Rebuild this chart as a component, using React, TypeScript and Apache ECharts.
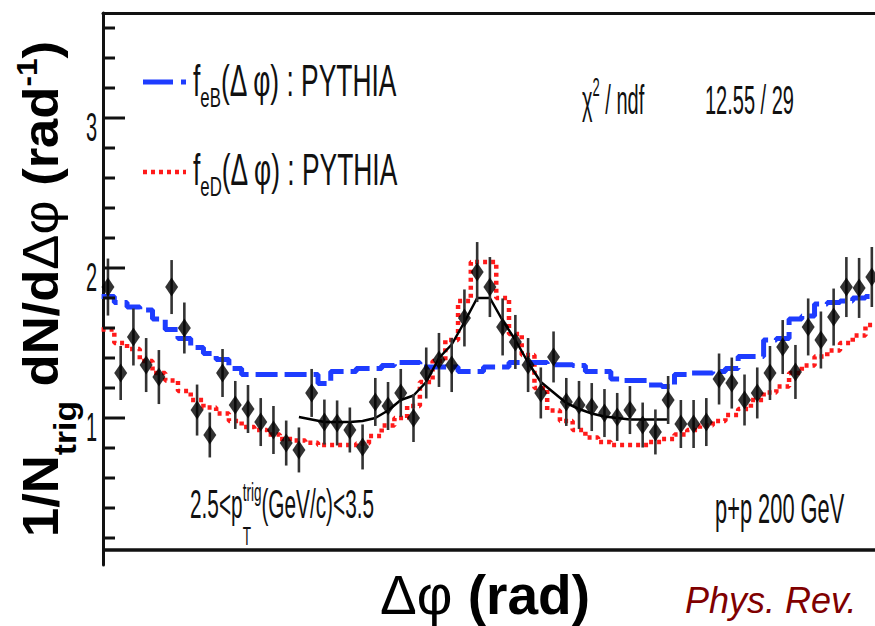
import React, { useEffect, useRef } from "react";
import * as echarts from "echarts";

// ---------- axes / binning ----------
const BIN_WIDTH = Math.PI / 30;
const FIRST_BIN_CENTER = -Math.PI + BIN_WIDTH / 2;
const X_MIN = -3.13;
const X_MAX = 3.22;
const Y_MIN = 0.02;
const Y_MAX = 3.7;
const Y_MAJOR_TICKS = [1, 2, 3];
const Y_MINOR_TICKS = [0.2, 0.4, 0.6, 0.8, 1.2, 1.4, 1.6, 1.8, 2.2, 2.4, 2.6, 2.8, 3.2, 3.4, 3.6];
const FRAME_BOTTOM_Y = 0.12;

// ---------- data (per bin) ----------
const DATA_Y = [
  1.873, 1.3, 1.54, 1.353, 1.273, 1.873, 1.6, 1.053, 0.887, 1.3,
  1.087, 1.06, 0.973, 0.92, 0.833, 0.787, 1.167, 0.973, 0.967, 0.92,
  0.807, 1.107, 1.08, 1.167, 1.0, 1.3, 1.387, 1.353, 1.667, 1.973,
  1.873, 1.607, 1.507, 1.353, 1.167, 1.407, 1.107, 1.087, 1.073, 1.033,
  1.007, 1.053, 0.953, 0.907, 1.12, 0.96, 0.96, 0.973, 1.26, 1.233,
  1.12, 1.167, 1.3, 1.473, 1.307, 1.607, 1.52, 1.673, 1.873, 1.867,
  1.94,
];
const DATA_ERR = [
  0.19, 0.18, 0.19, 0.18, 0.18, 0.18, 0.17, 0.17, 0.15, 0.16,
  0.16, 0.16, 0.16, 0.16, 0.15, 0.15, 0.16, 0.15, 0.15, 0.15,
  0.15, 0.16, 0.16, 0.16, 0.16, 0.17, 0.18, 0.18, 0.19, 0.2,
  0.2, 0.19, 0.18, 0.18, 0.17, 0.17, 0.16, 0.16, 0.16, 0.16,
  0.16, 0.16, 0.15, 0.15, 0.16, 0.16, 0.16, 0.16, 0.17, 0.17,
  0.17, 0.17, 0.18, 0.18, 0.18, 0.19, 0.19, 0.19, 0.2, 0.2,
  0.2,
];
// f_eB (PYTHIA), blue dashed histogram
const FEB_Y = [
  1.81, 1.77, 1.74, 1.72, 1.66, 1.59, 1.53, 1.47, 1.43, 1.39,
  1.33, 1.29, 1.29, 1.29, 1.29, 1.29, 1.29, 1.23, 1.31, 1.31,
  1.33, 1.33, 1.35, 1.37, 1.37, 1.34, 1.34, 1.34, 1.31, 1.31,
  1.34, 1.34, 1.37, 1.37, 1.37, 1.355, 1.355, 1.35, 1.31, 1.31,
  1.26, 1.25, 1.25, 1.22, 1.21, 1.29, 1.3, 1.3, 1.31, 1.33,
  1.41, 1.41, 1.52, 1.53, 1.66, 1.68, 1.76, 1.77, 1.78, 1.8,
  1.81,
];
// f_eD (PYTHIA), red dotted histogram
const FED_Y = [
  1.59, 1.5, 1.46, 1.38, 1.3, 1.25, 1.18, 1.12, 1.07, 1.03,
  0.98, 0.94, 0.92, 0.89, 0.86, 0.85, 0.835, 0.82, 0.82, 0.82,
  0.83, 0.88, 0.95, 1.0, 1.08, 1.24, 1.38, 1.52, 1.78, 2.04,
  2.04, 1.8, 1.56, 1.42, 1.2, 1.05, 0.98, 0.92, 0.87, 0.84,
  0.82, 0.82, 0.82, 0.84, 0.86, 0.89, 0.92, 0.95, 0.98, 1.02,
  1.06, 1.12, 1.17, 1.21, 1.3, 1.35, 1.41, 1.45, 1.5, 1.55,
  1.62,
];
// fit (black solid), bins 15..44
const FIT_FIRST_BIN = 15;
const FIT_Y = [
  1.007, 0.99, 0.973, 0.973, 0.973, 0.98, 1.0, 1.05, 1.12, 1.15,
  1.24, 1.4, 1.49, 1.64, 1.8, 1.8, 1.65, 1.52, 1.37, 1.24,
  1.17, 1.1, 1.06, 1.03, 1.01, 1.0, 0.99, 0.99, 0.99, 0.99,
];

const FF = "'Liberation Sans', Arial, Helvetica, sans-serif";
const BLUE = "#1e3cff";
const RED = "#ff1a1a";

type Piece = { t: string; size: number; weight?: string; italic?: boolean; dy?: number; hold?: boolean; fill?: string };

function makeText(
  ctx: CanvasRenderingContext2D,
  x: number,
  y: number,
  pieces: Piece[],
  opt: { scaleX?: number; rotation?: number; fill?: string; align?: "left" | "center" | "right"; targetWidth?: number } = {}
) {
  let cx = 0;
  let maxAdvance = 0;
  const children: any[] = [];
  pieces.forEach((p) => {
    const font = `${p.italic ? "italic " : ""}${p.weight || "normal"} ${p.size}px ${FF}`;
    ctx.font = font;
    const w = ctx.measureText(p.t).width;
    children.push({
      type: "text",
      x: cx,
      y: p.dy || 0,
      silent: true,
      style: {
        text: p.t,
        font,
        fill: p.fill || opt.fill || "#111",
        align: "left",
        verticalAlign: "middle",
        textAlign: "left",
        textVerticalAlign: "middle",
      },
    });
    if (p.hold) {
      maxAdvance = Math.max(maxAdvance, w);
    } else {
      cx += Math.max(w, maxAdvance);
      maxAdvance = 0;
    }
  });
  const total = cx;
  if (opt.align === "center") children.forEach((c) => (c.x -= total / 2));
  if (opt.align === "right") children.forEach((c) => (c.x -= total));
  const scaleX = opt.targetWidth ? opt.targetWidth / total : opt.scaleX || 1;
  return { type: "group", x, y, scaleX, scaleY: 1, rotation: opt.rotation || 0, silent: true, children };
}

export default function App() {
  const ref = useRef<HTMLDivElement>(null);

  useEffect(() => {
    if (!ref.current) return;
    const chart = echarts.init(ref.current, undefined, { renderer: "svg" });

    const centers = DATA_Y.map((_, k) => FIRST_BIN_CENTER + k * BIN_WIDTH);
    const stepData = (vals: number[]) => {
      const out: number[][] = [];
      vals.forEach((v, k) => {
        out.push([centers[k] - BIN_WIDTH / 2, v]);
        out.push([centers[k] + BIN_WIDTH / 2, v]);
      });
      return out;
    };
    const fitData = FIT_Y.map((v, i) => [centers[FIT_FIRST_BIN + i], v]);
    const points = DATA_Y.map((v, k) => [centers[k], v]);
    const errData = DATA_Y.map((v, k) => [centers[k], v, DATA_ERR[k]]);
    // y-axis ticks: [x at the axis, value, tick length in px]
    const tickData = [
      ...Y_MAJOR_TICKS.map((v) => [X_MIN, v, 22]),
      ...Y_MINOR_TICKS.map((v) => [X_MIN, v, 12]),
    ];

    const option: any = {
      animation: false,
      backgroundColor: "#fff",
      grid: { left: 103, right: 0, top: 13, bottom: 61, containLabel: false },
      xAxis: [
        {
          type: "value",
          position: "bottom",
          min: X_MIN,
          max: X_MAX,
          axisLine: { show: false, onZero: false },
          axisTick: { show: false },
          axisLabel: { show: false },
          splitLine: { show: false },
        },
        {
          type: "value",
          position: "top",
          min: X_MIN,
          max: X_MAX,
          axisLine: { show: true, onZero: false, lineStyle: { color: "#111", width: 3 } },
          axisTick: { show: false },
          axisLabel: { show: false },
          splitLine: { show: false },
        },
      ],
      yAxis: [
        {
          type: "value",
          position: "left",
          min: Y_MIN,
          max: Y_MAX,
          axisLine: { show: true, onZero: false, lineStyle: { color: "#111", width: 3 } },
          axisTick: { show: false },
          axisLabel: { show: false },
          splitLine: { show: false },
        },
      ],
      series: [
        {
          name: "feD",
          type: "line",
          data: stepData(FED_Y),
          symbol: "none",
          z: 2,
          lineStyle: { color: RED, width: 4.5, type: [4, 4], cap: "butt" },
          markLine: {
            silent: true,
            symbol: "none",
            label: { show: false },
            lineStyle: { color: "#111", width: 3.5, type: "solid" },
            data: [{ yAxis: FRAME_BOTTOM_Y }],
          },
        },
        {
          name: "feB",
          type: "line",
          data: stepData(FEB_Y),
          symbol: "none",
          z: 3,
          lineStyle: { color: BLUE, width: 5, type: [22, 7], cap: "butt" },
        },
        {
          name: "fit",
          type: "line",
          data: fitData,
          symbol: "none",
          z: 4,
          lineStyle: { color: "#000", width: 2.5 },
        },
        {
          name: "err",
          type: "custom",
          data: errData,
          z: 5,
          renderItem: (params: any, api: any) => {
            const x = api.value(0);
            const y = api.value(1);
            const e = api.value(2);
            const a = api.coord([x, y + e]);
            const b = api.coord([x, y - e]);
            return {
              type: "line",
              shape: { x1: a[0], y1: a[1], x2: b[0], y2: b[1] },
              style: { stroke: "#333", lineWidth: 2.6 },
            };
          },
        },
        {
          name: "data",
          type: "scatter",
          data: points,
          symbol: "diamond",
          symbolSize: [13, 19],
          z: 6,
          itemStyle: { color: "#000" },
        },
        {
          name: "yticks",
          type: "custom",
          data: tickData,
          z: 7,
          silent: true,
          clip: false,
          renderItem: (params: any, api: any) => {
            const p = api.coord([api.value(0), api.value(1)]);
            const len = api.value(2);
            return {
              type: "rect",
              shape: { x: p[0], y: p[1] - 1.5, width: len, height: 3 },
              style: { fill: "#111" },
            };
          },
        },
      ],
    };

    chart.setOption(option);

    const ctx = document.createElement("canvas").getContext("2d") as CanvasRenderingContext2D;
    const toPx = (x: number, y: number) => chart.convertToPixel({ gridIndex: 0 } as any, [x, y]) as unknown as number[];

    const g: any[] = [];
    // legend samples
    g.push({ type: "line", silent: true, shape: { x1: 143, y1: 82, x2: 186, y2: 82 }, style: { stroke: BLUE, lineWidth: 5, lineDash: [30, 8] } });
    g.push({ type: "line", silent: true, shape: { x1: 143, y1: 172, x2: 186, y2: 172 }, style: { stroke: RED, lineWidth: 4.5, lineDash: [4, 4] } });
    g.push(
      makeText(ctx, 193, 81, [
        { t: "f", size: 44 },
        { t: "eB", size: 28, dy: 16 },
        { t: "(Δ φ) : PYTHIA", size: 44 },
      ], { scaleX: 0.6 })
    );
    g.push(
      makeText(ctx, 193, 170, [
        { t: "f", size: 44 },
        { t: "eD", size: 28, dy: 16 },
        { t: "(Δ φ) : PYTHIA", size: 44 },
      ], { scaleX: 0.6 })
    );
    // chi2
    g.push(
      makeText(ctx, 582, 100, [
        { t: "χ", size: 40 },
        { t: "2", size: 26, dy: -13 },
        { t: " / ndf", size: 40 },
      ], { scaleX: 0.5 })
    );
    g.push(makeText(ctx, 705, 100, [{ t: "12.55 / 29", size: 40 }], { scaleX: 0.5 }));
    // pT range
    g.push(
      makeText(ctx, 190, 504, [
        { t: "2.5<p", size: 40 },
        { t: "T", size: 26, dy: 32, hold: true },
        { t: "trig", size: 26, dy: -12 },
        { t: "(GeV/c)<3.5", size: 40 },
      ], { scaleX: 0.52 })
    );
    // system
    g.push(makeText(ctx, 715, 509, [{ t: "p+p 200 GeV", size: 42 }], { scaleX: 0.52 }));
    // y title (rotated)
    g.push(
      makeText(ctx, 41, 537, [
        { t: "1/N", size: 50, weight: "bold" },
        { t: "trig", size: 32, weight: "bold", dy: 24 },
        { t: " dN/d", size: 50, weight: "bold" },
        { t: "Δφ", size: 50 },
        { t: " (rad", size: 50, weight: "bold" },
        { t: "-1", size: 30, weight: "bold", dy: -14 },
        { t: ")", size: 50, weight: "bold" },
      ], { rotation: Math.PI / 2, targetWidth: 496, fill: "#000" })
    );
    // x title
    g.push(
      makeText(ctx, 485, 595, [
        { t: "Δφ", size: 55 },
        { t: " (rad)", size: 55, weight: "bold" },
      ], { align: "center", fill: "#000" })
    );
    // journal
    g.push(makeText(ctx, 685, 600, [{ t: "Phys. Rev.", size: 36, italic: true, fill: "#7f0000" }], {}));
    // y tick labels, placed through the axis scale
    Y_MAJOR_TICKS.forEach((v) => {
      const p = toPx(X_MIN, v);
      g.push(makeText(ctx, p[0] - 6, p[1] + 9, [{ t: String(v), size: 40 }], { scaleX: 0.5, align: "right" }));
    });

    chart.setOption({ graphic: { elements: g } });

    return () => chart.dispose();
  }, []);

  return (
    <div
      ref={ref}
      style={{ position: "absolute", left: 0, top: 0, width: 875, height: 626, background: "#fff" }}
    />
  );
}
